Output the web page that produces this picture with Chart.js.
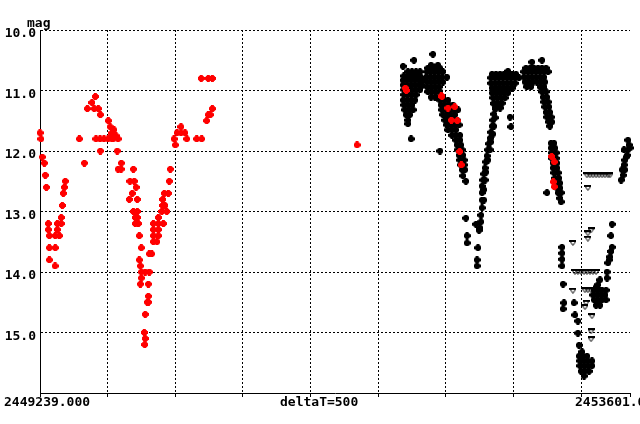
<!DOCTYPE html>
<html>
<head>
<meta charset="utf-8">
<script src="https://cdn.jsdelivr.net/npm/chart.js@4.4.0/dist/chart.umd.min.js"></script>
<style>
  html, body { margin: 0; padding: 0; background: #fff; }
  canvas { display: block; }
</style>
</head>
<body>
<canvas id="lightCurve" width="640" height="424"></canvas>
<script>
// x values are days since JD_START, y values are magnitudes
const JD_START = 2449239;
const JD_END = 2453601;
const DELTA_T = 500;
const magTicks = [10, 11, 12, 13, 14, 15, 16];

// visual estimates (red)
const redObs = [
  [0,11.7],[7,11.8],[17,12.1],[32,12.2],[39,12.4],[47,12.6],[61,13.2],[61,13.3],[69,13.4],[69,13.6],[69,13.8],
  [111,13.9],[113,13.4],[113,13.6],[128,13.3],[128,13.2],[143,13.4],[157,13.2],[157,13.1],[165,12.9],[172,12.7],
  [180,12.6],[187,12.5],[291,11.8],[328,12.2],[350,11.3],[384,11.2],[409,11.1],[401,11.3],[431,11.3],[446,11.4],
  [414,11.8],[444,11.8],[473,11.8],[503,11.8],[532,11.8],[577,11.8],[446,12.0],[505,11.5],[518,11.6],[532,11.7],
  [547,11.65],[562,11.75],[540,11.8],[525,11.75],[571,12.0],[601,12.2],[577,12.3],[599,12.3],
  [690,12.3],[665,12.5],[697,12.5],[710,12.6],[682,12.7],[660,12.8],[719,12.8],[690,13.0],[719,13.0],[705,13.1],
  [719,13.1],[705,13.2],[727,13.2],[734,13.4],[749,13.6],[734,13.8],[742,13.9],[749,14.0],[778,14.0],[808,14.0],
  [749,14.1],[742,14.2],[801,14.2],[801,14.4],[793,14.5],[801,14.5],[778,14.7],[771,15.0],[778,15.1],[774,15.2],
  [808,13.7],[826,13.7],[838,13.5],[865,13.5],[838,13.4],[875,13.4],[838,13.3],[875,13.3],[838,13.2],[875,13.2],
  [912,13.2],[875,13.1],[900,13.0],[937,13.0],[907,12.9],[924,12.9],[907,12.8],[919,12.7],[949,12.7],[956,12.5],
  [963,12.3],[991,11.8],[1000,11.9],[1013,11.7],[1042,11.6],[1042,11.7],[1072,11.7],[1085,11.8],
  [1158,11.8],[1195,11.8],[1232,11.5],[1244,11.4],[1259,11.4],[1274,11.3],[1192,10.8],[1244,10.8],[1274,10.8],
  [2344,11.9],
  [2701,10.96],[2708,11.0],[2967,11.09],[2972,11.1],[3016,11.29],[3066,11.27],[3041,11.49],[3085,11.5],
  [3103,12.01],[3115,12.23],[3783,12.09],[3802,12.18],[3795,12.51],[3802,12.59]
];

// CCD measurements (black)
const blackObs = [
  [2684,10.60],[2765,10.50],
  [2720,10.69],[2750,10.69],[2780,10.69],[2809,10.69],
  [2691,10.76],[2720,10.76],[2750,10.76],[2780,10.76],[2809,10.76],
  [2684,10.83],[2713,10.83],[2743,10.83],[2772,10.83],[2802,10.83],[2824,10.83],
  [2684,10.91],[2713,10.91],[2743,10.91],[2772,10.91],[2802,10.91],[2824,10.91],
  [2691,10.99],[2720,10.99],[2750,10.99],[2780,10.99],[2809,10.99],
  [2691,11.07],[2720,11.07],[2750,11.07],[2780,11.07],
  [2684,11.16],[2713,11.16],[2743,11.16],[2772,11.16],
  [2691,11.24],[2720,11.24],[2750,11.24],
  [2698,11.32],[2728,11.32],[2758,11.32],
  [2706,11.40],[2735,11.40],[2720,11.49],[2720,11.55],[2743,11.80],

  [2905,10.40],[2891,10.58],[2942,10.58],
  [2868,10.63],[2898,10.63],[2928,10.63],[2957,10.63],
  [2861,10.69],[2891,10.69],[2920,10.69],[2950,10.69],[2979,10.69],
  [2854,10.78],[2883,10.78],[2913,10.78],[2942,10.78],[2972,10.78],[3009,10.78],
  [2861,10.86],[2891,10.86],[2920,10.86],[2950,10.86],[2979,10.86],
  [2861,10.94],[2891,10.94],[2920,10.94],[2950,10.94],
  [2868,11.02],[2898,11.02],[2928,11.02],[2957,11.02],
  [2891,11.11],[2920,11.11],[2950,11.11],[2979,11.11],
  [2957,11.16],[2987,11.16],[3016,11.16],
  [2965,11.24],[2994,11.24],[3024,11.24],[3053,11.24],
  [2972,11.32],[3002,11.32],[3031,11.32],[3061,11.32],[3090,11.32],
  [2979,11.40],[3009,11.40],[3039,11.40],[3068,11.40],
  [2994,11.49],[3024,11.49],[3053,11.49],[3083,11.49],
  [3009,11.57],[3039,11.57],[3068,11.57],[3098,11.57],
  [3016,11.65],[3046,11.65],[3075,11.65],
  [3046,11.74],[3075,11.74],[3105,11.74],
  [3075,11.82],[3105,11.82],[3083,11.90],[3112,11.90],[3090,11.98],[3120,11.98],
  [3098,12.07],[3127,12.07],[3105,12.15],[3135,12.15],[3112,12.23],[3135,12.23],
  [3120,12.31],[3142,12.31],[3127,12.41],[3149,12.50],[2957,12.00],

  [3149,13.11],[3157,13.40],[3157,13.52],[3238,13.60],[3231,13.80],[3231,13.90],[3246,13.31],[3223,13.21],
  [3253,13.27],[3260,13.17],[3260,13.06],[3268,12.94],[3268,12.81],[3268,12.69],[3268,12.58],[3275,12.48],
  [3282,12.38],[3290,12.28],[3297,12.18],[3305,12.08],[3312,11.98],[3319,11.88],[3327,11.79],[3334,11.69],
  [3342,11.59],[3349,11.49],[3356,11.39],
  [3290,12.48],[3297,12.35],[3312,12.15],[3327,11.98],[3334,11.85],[3349,11.72],[3356,11.59],[3364,11.45],
  [3282,12.64],[3282,12.81],[3364,11.30],[3356,11.22],

  [3460,10.68],
  [3342,10.73],[3371,10.73],[3401,10.73],[3430,10.73],[3460,10.73],[3490,10.73],[3519,10.73],
  [3334,10.79],[3364,10.79],[3393,10.79],[3423,10.79],[3453,10.79],[3482,10.79],[3512,10.79],[3541,10.79],
  [3334,10.88],[3364,10.88],[3393,10.88],[3423,10.88],[3453,10.88],[3482,10.88],[3512,10.88],
  [3342,10.96],[3371,10.96],[3401,10.96],[3430,10.96],[3460,10.96],[3490,10.96],
  [3342,11.04],[3371,11.04],[3401,11.04],[3430,11.04],[3460,11.04],
  [3349,11.12],[3379,11.12],[3408,11.12],[3438,11.12],
  [3356,11.21],[3386,11.21],[3416,11.21],[3371,11.29],[3401,11.29],
  [3475,11.44],[3482,11.60],

  [3637,10.53],[3711,10.50],
  [3593,10.63],[3623,10.63],[3652,10.63],[3682,10.63],[3711,10.63],[3741,10.63],
  [3578,10.69],[3608,10.69],[3637,10.69],[3667,10.69],[3697,10.69],[3726,10.69],[3756,10.69],
  [3578,10.78],[3608,10.78],[3637,10.78],[3667,10.78],[3697,10.78],[3726,10.78],
  [3586,10.86],[3615,10.86],[3645,10.86],[3674,10.86],[3704,10.86],[3733,10.86],
  [3600,10.94],[3630,10.94],[3697,10.94],[3726,10.94],
  [3711,11.02],[3741,11.02],[3719,11.11],[3748,11.11],[3726,11.19],[3756,11.19],
  [3733,11.27],[3763,11.27],[3741,11.36],[3770,11.36],[3748,11.44],[3778,11.44],
  [3763,11.52],[3785,11.52],[3770,11.59],
  [3778,11.87],[3800,11.87],[3778,11.95],[3807,11.95],[3785,12.03],[3815,12.03],
  [3785,12.12],[3815,12.12],[3793,12.20],[3822,12.20],[3793,12.28],[3822,12.28],
  [3800,12.36],[3830,12.36],[3807,12.45],[3837,12.45],[3815,12.53],[3844,12.53],
  [3822,12.61],[3844,12.61],[3830,12.69],[3852,12.69],[3844,12.78],[3852,12.84],[3748,12.69],

  [4347,11.82],[4355,11.90],[4347,11.98],[4340,12.07],[4325,12.15],[4318,12.23],[4303,12.31],
  [4311,12.40],[4296,12.48],[4333,12.10],[4325,12.31],[4362,11.95],[4318,11.98],

  [4229,13.21],[4221,13.40],[3859,13.59],[3859,13.69],[3859,13.79],[3859,13.90],[3867,14.20],
  [3874,14.51],[3867,14.61],[3948,14.51],[3955,14.71],[3977,14.81],[3977,15.01],[3985,15.21],[4007,15.32],
  [3985,15.39],[4014,15.39],[4044,15.39],
  [3992,15.47],[4022,15.47],[4051,15.47],[4081,15.47],
  [3992,15.55],[4022,15.55],[4051,15.55],[4081,15.55],
  [4000,15.64],[4029,15.64],[4059,15.64],[4022,15.72],
  [4229,13.59],[4221,13.66],[4214,13.75],[4207,13.80],[4199,13.85],[4192,14.00],[4192,14.10],
  [4140,14.13],[4125,14.21],[4111,14.25],
  [4096,14.30],[4125,14.30],[4155,14.30],[4185,14.30],
  [4088,14.38],[4118,14.38],[4148,14.38],[4177,14.38],
  [4096,14.46],[4125,14.46],[4155,14.46],[4185,14.46],
  [4111,14.55],[4140,14.55]
];

// fainter-than limits (open triangles)
const limitObs = [
  [4044,12.40],[4066,12.40],[4088,12.40],[4111,12.40],[4133,12.40],[4155,12.40],[4177,12.40],[4199,12.40],[4214,12.40],
  [4051,12.61],[4074,13.31],[4051,13.36],[4051,13.45],[3940,13.52],
  [3955,14.00],[3977,14.00],[4000,14.00],[4022,14.00],[4044,14.00],[4066,14.00],[4088,14.00],[4111,14.00],
  [3940,14.31],
  [4029,14.30],[4051,14.30],[4074,14.30],[4096,14.30],[4118,14.30],[4140,14.30],
  [4037,14.51],[4029,14.58],[4081,14.73],[4074,14.98],[4074,15.11]
];

const FONT = '"DejaVu Sans Mono", monospace';

function starMarker(color) {
  const c = document.createElement('canvas');
  c.width = 7; c.height = 7;
  const g = c.getContext('2d');
  g.fillStyle = color;
  g.fillRect(1, 1, 5, 5);
  g.fillRect(0, 2, 7, 3);
  g.fillRect(2, 0, 3, 7);
  return c;
}

function limitMarker() {
  const c = document.createElement('canvas');
  c.width = 7; c.height = 6;
  const g = c.getContext('2d');
  g.fillStyle = '#000';
  g.fillRect(0, 0, 7, 2);
  g.strokeStyle = '#000';
  g.lineWidth = 1;
  g.beginPath();
  g.moveTo(0.5, 1);
  g.lineTo(3.5, 5.5);
  g.lineTo(6.5, 1);
  g.stroke();
  return c;
}

const toPoints = (arr) => arr.map(([d, m]) => ({ x: d, y: m }));
const span = JD_END - JD_START;

// text that sits outside the plot: unit, start/end JD and step
const axisText = {
  id: 'axisText',
  afterDraw(chart) {
    const ctx = chart.ctx;
    ctx.save();
    ctx.font = 'bold 13px ' + FONT;
    ctx.fillStyle = '#000';
    ctx.textAlign = 'left';
    ctx.textBaseline = 'alphabetic';
    ctx.fillText('mag', 27, 27);
    ctx.fillText(JD_START.toFixed(3), 4, 406);
    ctx.fillText('deltaT=' + DELTA_T, 280, 406);
    ctx.fillText(JD_END.toFixed(3), 575, 406);
    ctx.restore();
  }
};

new Chart(document.getElementById('lightCurve'), {
  type: 'scatter',
  data: {
    datasets: [
      { label: 'visual', data: toPoints(redObs), pointStyle: starMarker('#ff0000'), pointRadius: 3.5, order: 0, clip: false },
      { label: 'CCD', data: toPoints(blackObs), pointStyle: starMarker('#000000'), pointRadius: 3.5, order: 1, clip: false },
      { label: 'limit', data: toPoints(limitObs), pointStyle: limitMarker(), pointRadius: 3.5, order: 2, clip: false }
    ]
  },
  options: {
    responsive: false,
    animation: false,
    devicePixelRatio: 1,
    layout: { padding: { top: 30, right: 10, left: 0, bottom: 0 } },
    plugins: { legend: { display: false }, tooltip: { enabled: false }, title: { display: false } },
    scales: {
      x: {
        type: 'linear',
        min: 0,
        max: span,
        afterBuildTicks: (scale) => {
          const t = [];
          for (let v = 0; v < span; v += DELTA_T) t.push({ value: v });
          t.push({ value: span });
          scale.ticks = t;
        },
        afterFit: (scale) => { scale.height = 31; },
        ticks: { display: false },
        grid: {
          color: (c) => (c.tick && c.tick.value === span) ? 'rgba(0,0,0,0)' : '#000',
          tickColor: '#000',
          tickLength: 4,
          lineWidth: 1
        },
        border: { display: true, color: '#000', width: 1, dash: [2, 2] }
      },
      y: {
        type: 'linear',
        reverse: true,
        min: 10,
        max: 16,
        afterBuildTicks: (scale) => { scale.ticks = magTicks.map(v => ({ value: v })); },
        afterFit: (scale) => { scale.width = 40; },
        ticks: {
          padding: 4,
          labelOffset: 4,
          color: '#000',
          font: { family: FONT, size: 13, weight: 'bold' },
          callback: (v) => v < 16 ? Number(v).toFixed(1) : ''
        },
        grid: { color: '#000', drawTicks: false, lineWidth: 1 },
        border: { display: true, color: '#000', width: 1, dash: [2, 2] }
      }
    }
  },
  plugins: [axisText]
});
</script>
</body>
</html>
